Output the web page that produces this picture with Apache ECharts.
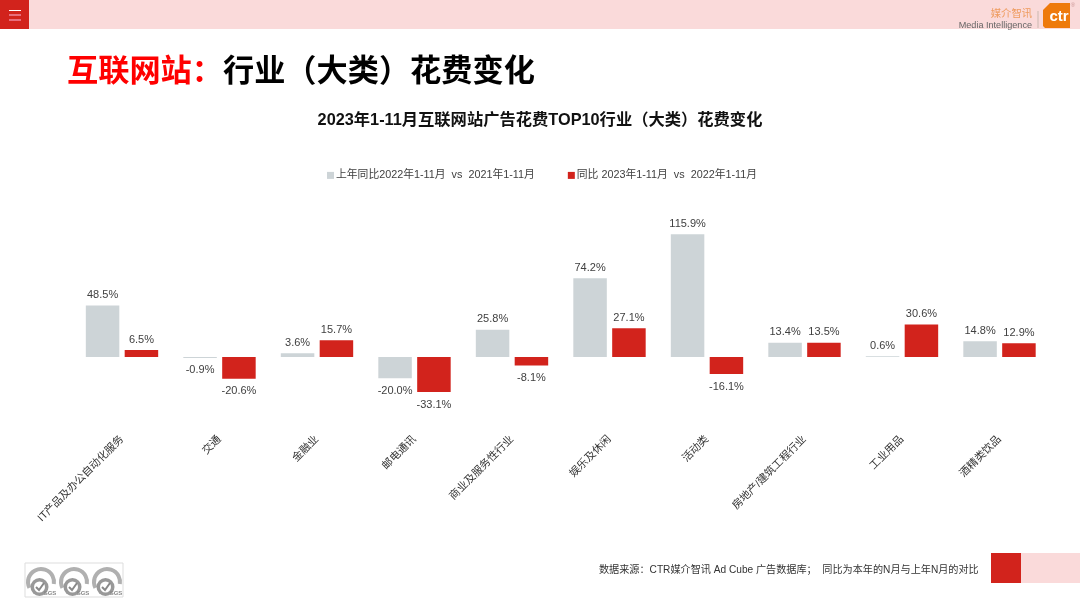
<!DOCTYPE html>
<html>
<head>
<meta charset="utf-8">
<style>html,body{margin:0;padding:0;background:#fff}#main{width:1080px;height:608px}</style>
<script src="https://cdn.jsdelivr.net/npm/echarts@6/dist/echarts.min.js"></script>
</head>
<body>
<div id="main"></div>
<script>
const categories = ['IT产品及办公自动化服务', '交通', '金融业', '邮电通讯', '商业及服务性行业', '娱乐及休闲', '活动类', '房地产/建筑工程行业', '工业用品', '酒精类饮品']
const prevYoY = [48.5, -0.9, 3.6, -20.0, 25.8, 74.2, 115.9, 13.4, 0.6, 14.8]
const currYoY = [6.5, -20.6, 15.7, -33.1, -8.1, 27.1, -16.1, 13.5, 30.6, 12.9]
const prevName = '上年同比2022年1-11月  vs  2021年1-11月'
const currName = '同比 2023年1-11月  vs  2022年1-11月'

const FONT = '"Liberation Sans", "Noto Sans CJK SC", sans-serif'
const RED = '#D2231C'
const GREY = '#CDD4D7'
const PINK = '#FADADA'
const TEXT = '#404040'

function barData(values) {
  return values.map(v => ({
    value: v,
    label: { position: v < 0 ? 'bottom' : 'top', distance: v < 0 ? 7 : 5 }
  }))
}

function barSeries(name, values, color) {
  return {
    name: name,
    type: 'bar',
    barWidth: 33.5,
    barGap: '16%',
    itemStyle: { color: color },
    label: {
      show: true,
      formatter: p => p.value.toFixed(1) + '%',
      fontFamily: FONT,
      fontSize: 11,
      color: TEXT
    },
    data: barData(values)
  }
}

// 页眉、页脚、logo
const decor = [
  { type: 'rect', shape: { x: 0, y: 0, width: 1080, height: 29 }, style: { fill: PINK } },
  { type: 'rect', shape: { x: 0, y: 0, width: 29, height: 29 }, style: { fill: RED } },
  { type: 'rect', shape: { x: 9, y: 10, width: 12, height: 1 }, style: { fill: '#fff' } },
  { type: 'rect', shape: { x: 9, y: 14.5, width: 12, height: 1 }, style: { fill: '#fbd' } },
  { type: 'rect', shape: { x: 9, y: 19.5, width: 12, height: 1 }, style: { fill: '#fbd' } },
  { type: 'text', x: 1032, y: 14, style: { text: '媒介智讯', align: 'right', verticalAlign: 'middle', fill: '#EE9A5C', font: '10.3px ' + FONT } },
  { type: 'text', x: 1032, y: 25, style: { text: 'Media Intelligence', align: 'right', verticalAlign: 'middle', fill: '#666', font: '9.1px ' + FONT } },
  { type: 'rect', shape: { x: 1037.5, y: 11, width: 1, height: 17 }, style: { fill: '#C9B8B0' } },
  { type: 'polygon', shape: { points: [[1050, 3], [1070, 3], [1070, 28], [1045, 28], [1043, 26], [1043, 10]] }, style: { fill: '#EE7A0C' } },
  { type: 'text', x: 1059, y: 17, style: { text: 'ctr', align: 'center', verticalAlign: 'middle', fill: '#fff', font: 'bold 15px ' + FONT } },
  { type: 'text', x: 1073, y: 5, style: { text: '®', align: 'center', verticalAlign: 'middle', fill: '#C99', font: '6px ' + FONT } },
  { type: 'rect', shape: { x: 991, y: 553, width: 30, height: 30 }, style: { fill: RED } },
  { type: 'rect', shape: { x: 1021, y: 553, width: 59, height: 30 }, style: { fill: PINK } },
  { type: 'text', x: 599, y: 570, style: { text: '数据来源：CTR媒介智讯 Ad Cube 广告数据库；  同比为本年的N月与上年N月的对比', verticalAlign: 'middle', fill: '#333', font: '10.15px ' + FONT } },
  { type: 'rect', shape: { x: 25, y: 563, width: 98, height: 34 }, style: { fill: '#fff', stroke: '#DDD', lineWidth: 1 } }
]

// SGS 标志
;[0, 33, 66].forEach(dx => {
  decor.push(
    { type: 'arc', shape: { cx: 41 + dx, cy: 582, r: 13, startAngle: Math.PI * 0.85, endAngle: Math.PI * 2.05 }, style: { stroke: '#B0B0B0', fill: null, lineWidth: 4 } },
    { type: 'circle', shape: { cx: 39.5 + dx, cy: 587, r: 9 }, style: { fill: '#999' } },
    { type: 'circle', shape: { cx: 39.5 + dx, cy: 587, r: 5.5 }, style: { fill: '#fff' } },
    { type: 'polyline', shape: { points: [[36 + dx, 587], [39 + dx, 590], [44 + dx, 583]] }, style: { stroke: '#888', fill: null, lineWidth: 2 } },
    { type: 'text', x: 50 + dx, y: 593, style: { text: 'SGS', align: 'center', verticalAlign: 'middle', fill: '#888', font: 'bold 6px ' + FONT } }
  )
})

const chart = echarts.init(document.getElementById('main'))
chart.setOption({
  animation: false,
  backgroundColor: '#fff',
  title: [
    {
      left: 67, top: 57, padding: 0,
      text: '{r|互联网站：}{k|行业（大类）花费变化}',
      textStyle: {
        rich: {
          r: { fontFamily: FONT, fontSize: 31.2, fontWeight: 'bold', color: '#FF0000' },
          k: { fontFamily: FONT, fontSize: 31.2, fontWeight: 'bold', color: '#000' }
        }
      }
    },
    {
      left: 540, top: 112, padding: 0, textAlign: 'center',
      text: '2023年1-11月互联网站广告花费TOP10行业（大类）花费变化',
      textStyle: { fontFamily: FONT, fontSize: 16.3, fontWeight: 'bold', color: '#111' }
    }
  ],
  legend: {
    left: 327, top: 170, padding: 0,
    itemWidth: 7, itemHeight: 7, itemGap: 33,
    icon: 'rect',
    textStyle: { fontFamily: FONT, fontSize: 10.8, color: TEXT, padding: [0, 0, 0, -3] },
    data: [prevName, currName]
  },
  grid: { left: 73.25, width: 975, top: 229.8, height: 190.8 },
  xAxis: {
    type: 'category',
    data: categories,
    axisLine: { show: false, onZero: false },
    axisTick: { show: false },
    axisLabel: { interval: 0, rotate: 45, margin: 17, fontFamily: FONT, fontSize: 10.7, color: '#333' }
  },
  yAxis: { type: 'value', min: -60, max: 120, show: false, splitLine: { show: false } },
  series: [
    barSeries(prevName, prevYoY, GREY),
    barSeries(currName, currYoY, RED)
  ],
  graphic: decor
})
</script>
</body>
</html>
